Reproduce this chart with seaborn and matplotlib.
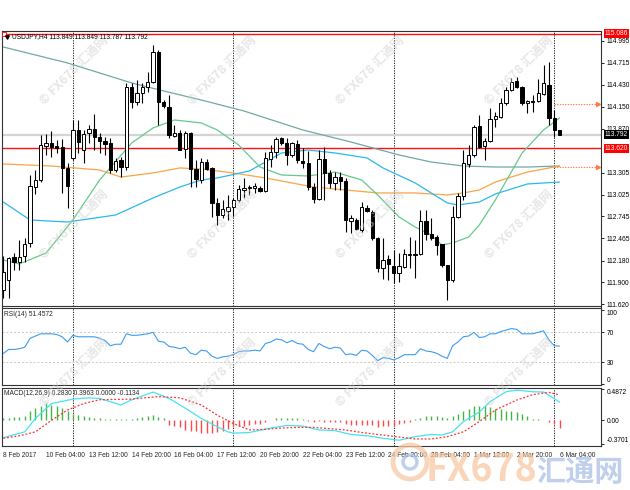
import numpy as np
import pandas as pd
import matplotlib
matplotlib.use("Agg")
import matplotlib.pyplot as plt
import matplotlib.transforms as mtransforms
from matplotlib.patches import Ellipse
import seaborn as sns

sns.set_style("white")
plt.rcParams['font.family'] = ['Liberation Sans', 'DejaVu Sans']

# ---------------- data ----------------
opens = [111.804, 111.932, 112.226, 112.162, 112.239, 112.406, 113.122, 113.212, 113.647, 113.686,
         113.647, 113.634, 113.366, 113.494, 113.852, 113.596, 113.814, 113.865, 113.762, 113.711,
         113.686, 113.340, 113.468, 113.378, 114.402, 114.210, 114.326, 114.402, 114.466, 114.850,
         114.210, 114.146, 113.775, 113.814, 113.609, 113.814, 113.353, 113.212, 113.442, 113.366,
         112.918, 112.764, 112.815, 112.866, 112.956, 113.084, 113.110, 113.110, 113.110, 113.071,
         113.481, 113.570, 113.750, 113.686, 113.532, 113.673, 113.455, 113.430, 113.122, 112.969,
         113.481, 113.302, 113.174, 113.250, 113.199, 112.687, 112.700, 112.572, 112.854, 112.802,
         112.470, 112.086, 112.201, 112.111, 112.022, 112.098, 112.252, 112.252, 112.265, 112.687,
         112.521, 112.482, 112.393, 112.124, 111.932, 112.738, 113.007, 113.417, 113.532, 113.903,
         113.647, 113.711, 113.993, 114.018, 114.198, 114.364, 114.479, 114.402, 114.198, 114.223,
         114.223, 114.313, 114.428, 114.006, 113.849]
highs = [112.239, 112.226, 112.278, 112.444, 112.470, 113.276, 113.340, 113.788, 113.801, 113.839,
         113.724, 113.737, 113.430, 113.980, 113.980, 113.852, 113.916, 114.057, 113.814, 113.762,
         113.750, 113.494, 113.506, 114.454, 114.454, 114.492, 114.454, 114.594, 114.940, 114.876,
         114.236, 114.300, 113.916, 113.852, 113.839, 113.826, 113.468, 113.494, 113.481, 113.378,
         112.982, 112.956, 113.020, 112.982, 113.148, 113.238, 113.148, 113.174, 113.135, 113.570,
         113.660, 113.762, 113.762, 113.750, 113.698, 113.724, 113.622, 113.583, 113.174, 113.596,
         113.634, 113.340, 113.314, 113.314, 113.238, 112.764, 112.726, 112.930, 112.892, 112.828,
         112.482, 112.470, 112.252, 112.316, 112.278, 112.329, 112.482, 112.444, 112.828, 112.828,
         112.726, 112.508, 112.393, 112.124, 112.879, 113.046, 113.596, 113.660, 113.916, 114.044,
         113.750, 114.134, 114.082, 114.262, 114.402, 114.518, 114.530, 114.415, 114.236, 114.300,
         114.505, 114.684, 114.722, 114.108, 113.849]
lows = [111.702, 111.702, 112.060, 112.060, 112.162, 112.354, 113.033, 113.186, 113.532, 113.506,
        113.558, 113.046, 112.854, 113.468, 113.558, 113.430, 113.686, 113.596, 113.558, 113.532,
        113.302, 113.314, 113.250, 113.340, 114.134, 114.172, 114.198, 114.338, 114.454, 113.916,
        114.134, 113.750, 113.762, 113.596, 113.494, 113.122, 113.122, 113.174, 113.340, 112.738,
        112.636, 112.726, 112.700, 112.738, 112.930, 112.982, 113.020, 113.046, 113.058, 113.058,
        113.378, 113.494, 113.660, 113.404, 113.506, 113.430, 113.366, 113.084, 112.918, 112.956,
        112.956, 113.110, 113.084, 113.084, 112.546, 112.534, 112.572, 112.546, 112.802, 112.444,
        112.034, 111.945, 111.932, 111.894, 111.906, 112.086, 112.086, 111.958, 112.252, 112.444,
        112.444, 112.252, 112.098, 111.676, 111.906, 112.726, 112.956, 113.378, 113.506, 113.622,
        113.468, 113.698, 113.890, 114.006, 114.172, 114.351, 114.390, 114.172, 114.070, 114.082,
        114.210, 114.300, 113.916, 113.762, 113.787]
closes = [112.034, 112.214, 112.162, 112.226, 112.393, 113.135, 113.212, 113.660, 113.686, 113.634,
          113.622, 113.366, 113.135, 113.852, 113.698, 113.801, 113.865, 113.762, 113.711, 113.673,
          113.340, 113.455, 113.378, 114.402, 114.210, 114.326, 114.402, 114.466, 114.850, 114.210,
          114.159, 113.788, 113.814, 113.596, 113.814, 113.353, 113.225, 113.442, 113.353, 112.918,
          112.764, 112.841, 112.866, 112.956, 113.097, 113.110, 113.122, 113.135, 113.071, 113.494,
          113.570, 113.737, 113.686, 113.532, 113.686, 113.468, 113.430, 113.122, 112.969, 113.481,
          113.302, 113.174, 113.250, 113.199, 112.700, 112.726, 112.585, 112.866, 112.815, 112.470,
          112.086, 112.188, 112.137, 112.022, 112.111, 112.265, 112.265, 112.265, 112.687, 112.521,
          112.470, 112.380, 112.124, 111.932, 112.738, 113.007, 113.430, 113.532, 113.890, 113.634,
          113.711, 113.993, 114.031, 114.198, 114.364, 114.466, 114.402, 114.198, 114.223, 114.210,
          114.326, 114.454, 114.006, 113.852, 113.792]

ma_slow_bar = [0, 6, 12, 18, 24, 30, 37, 45, 56, 65, 74, 80, 86, 92, 98, 104]
ma_slow_val = [114.914, 114.812, 114.710, 114.582, 114.454, 114.351, 114.236, 114.095, 113.852,
               113.698, 113.532, 113.442, 113.391, 113.378, 113.378, 113.391]
ma_orange_bar = [0, 9, 18, 22, 28, 33, 37, 43, 49, 58, 70, 77, 83, 86, 89, 92, 98, 104]
ma_orange_val = [113.417, 113.391, 113.340, 113.250, 113.302, 113.366, 113.353, 113.302, 113.238,
                 113.122, 113.046, 113.046, 113.020, 113.046, 113.084, 113.186, 113.314, 113.391]
ma_blue_bar = [0, 5, 12, 21, 28, 33, 37, 40, 46, 52, 57, 62, 68, 71, 77, 83, 85, 89, 92, 98, 104]
ma_blue_val = [112.930, 112.700, 112.674, 112.764, 112.982, 113.122, 113.212, 113.238, 113.327,
               113.558, 113.596, 113.558, 113.494, 113.366, 113.174, 112.918, 112.892, 112.930,
               113.033, 113.161, 113.186]
ma_green_bar = [0, 3, 8, 13, 18, 24, 28, 32, 37, 40, 44, 48, 52, 57, 62, 67, 70, 74, 77, 80, 82,
                84, 87, 89, 92, 97, 101, 104]
ma_green_val = [112.188, 112.137, 112.278, 112.700, 113.212, 113.686, 113.878, 113.980, 113.942,
                113.852, 113.660, 113.378, 113.276, 113.263, 113.314, 113.212, 113.020, 112.738,
                112.610, 112.508, 112.380, 112.406, 112.482, 112.636, 112.956, 113.558, 113.852,
                114.006]

rsi = [41.6, 47, 47, 48, 50, 62, 65, 68, 68, 68, 67, 64, 57, 66, 64, 64, 64, 64, 62, 59,
       52, 54, 54, 68, 66, 66, 67, 68, 70, 58, 57, 51, 50, 48, 50, 42, 40, 46, 45, 38,
       35, 37, 38, 40, 44, 45, 45, 46, 45, 55, 57, 61, 60, 56, 59, 55, 54, 47, 44, 55,
       51, 48, 50, 49, 40, 41, 39, 46, 45, 39, 32, 36, 35, 33, 36, 40, 40, 40, 48, 45,
       44, 42, 38, 35, 52, 57, 64, 65, 70, 63, 64, 68, 68, 71, 73, 75, 74, 68, 68, 68,
       70, 72, 60, 52, 51.4572]

macd_hist = [0.036, 0.036, 0.047, 0.05, 0.06, 0.14, 0.19, 0.23, 0.27, 0.24,
             0.23, 0.19, 0.14, 0.10, 0.09, 0.06, 0.05, 0.036, 0.036, 0.02,
             0.02, 0.015, 0.026, 0.015, 0.026, 0.036, 0.05, 0.06, 0.09, 0.05,
             0.036, -0.07, -0.09, -0.11, -0.145, -0.17, -0.17, -0.20, -0.20, -0.20,
             -0.18, -0.17, -0.135, -0.09, -0.09, -0.09, -0.07, -0.06, -0.05, -0.02,
             0.01, 0.03, 0.04, 0.04, 0.04, 0.03, 0.02, -0.01, -0.03, -0.01,
             -0.02, -0.03, -0.03, -0.03, -0.06, -0.07, -0.08, -0.07, -0.07, -0.08,
             -0.10, -0.09, -0.09, -0.09, -0.057, -0.04, -0.026, 0.02, 0.036, 0.06,
             0.07, 0.07, 0.05, 0.036, 0.06, 0.10, 0.14, 0.18, 0.22, 0.23,
             0.22, 0.20, 0.18, 0.18, 0.15, 0.14, 0.13, 0.10, 0.06, 0.026,
             0.02, 0.005, -0.026, -0.05, -0.1134]
macd_main_bar = [0, 4, 6, 9, 13, 16, 18, 22, 24, 28, 31, 34, 37, 40, 42, 43, 46, 50, 53, 56,
                 59, 62, 65, 68, 71, 74, 77, 80, 82, 84, 86, 89, 91, 94, 96, 99, 101, 102, 104]
macd_main_val = [-0.27, -0.18, 0.03, 0.26, 0.33, 0.35, 0.34, 0.24, 0.32, 0.44, 0.34, 0.19, 0.03,
                 -0.10, -0.18, -0.20, -0.19, -0.12, -0.08, -0.09, -0.15, -0.16, -0.22, -0.24,
                 -0.28, -0.31, -0.255, -0.22, -0.23, -0.18, -0.02, 0.13, 0.29, 0.445, 0.47,
                 0.445, 0.44, 0.39, 0.283]
macd_sig_bar = [0, 3, 6, 9, 12, 15, 18, 24, 29, 33, 37, 40, 43, 46, 49, 52, 55, 58, 61, 64,
                67, 70, 74, 77, 80, 83, 86, 89, 92, 96, 99, 102, 104]
macd_sig_val = [-0.28, -0.24, -0.18, 0.0, 0.16, 0.26, 0.32, 0.33, 0.37, 0.35, 0.24, 0.08, -0.05,
                -0.15, -0.14, -0.12, -0.11, -0.11, -0.13, -0.15, -0.19, -0.22, -0.26, -0.29,
                -0.29, -0.255, -0.18, -0.02, 0.16, 0.316, 0.40, 0.435, 0.396]

price_ticks = [114.995, 114.715, 114.430, 114.150, 113.870, 113.305, 113.025, 112.745,
               112.465, 112.180, 111.900, 111.620]
time_tick_bars = [0, 8, 16, 24, 32, 40, 48, 56, 64, 72, 80, 88, 96, 104]
time_tick_labels = ["8 Feb 2017", "10 Feb 04:00", "13 Feb 12:00", "14 Feb 20:00", "16 Feb 04:00",
                    "17 Feb 12:00", "20 Feb 20:00", "22 Feb 04:00", "23 Feb 12:00", "24 Feb 20:00",
                    "28 Feb 04:00", "1 Mar 12:00", "2 Mar 20:00", "6 Mar 04:00"]
week_sep_bars = [13, 43, 73, 103]
level_top = 115.086
level_red = 113.620
bid = 113.792
arrow_levels = [114.188, 113.382]

# ---------------- figure ----------------
W, H = 630, 490
fig = plt.figure(figsize=(6.3, 4.9), dpi=100)
fig.patch.set_facecolor('white')

def ax_at(x0, y0, x1, y1):
    return fig.add_axes([x0 / W, 1 - y1 / H, (x1 - x0) / W, (y1 - y0) / H])

ax = ax_at(2, 31, 601, 306)
ax_rsi = ax_at(2, 307.5, 601, 385)
ax_macd = ax_at(2, 387.5, 601, 446)

XMIN, XMAX = -0.25, 111.75
FS = 4.8
for a in (ax, ax_rsi, ax_macd):
    a.set_xlim(XMIN, XMAX)
    a.set_facecolor('white')
    for s in a.spines.values():
        s.set_color('#333333')
        s.set_linewidth(0.8)
    a.yaxis.tick_right()
    a.tick_params(axis='y', direction='out', length=2.5, width=0.6, labelsize=FS, pad=1.5,
                  colors='black')
    for b in week_sep_bars:
        a.axvline(b, color='black', lw=0.6, ls=(0, (1.5, 1.5)), zorder=1)

ax.tick_params(axis='x', bottom=False, labelbottom=False)
ax_rsi.tick_params(axis='x', bottom=False, labelbottom=False)

# ---- main price panel ----
o = np.array(opens); h = np.array(highs); l = np.array(lows); c = np.array(closes)
idx = np.arange(len(o))
up = c >= o
ax.vlines(idx, l, h, color='black', lw=0.8, zorder=3)
blo = np.minimum(o, c)
bh = np.maximum(np.abs(c - o), 0.004)
ax.bar(idx[up], bh[up], bottom=blo[up], width=0.62, color='white', edgecolor='black',
       lw=0.7, zorder=4)
ax.bar(idx[~up], bh[~up], bottom=blo[~up], width=0.62, color='black', edgecolor='black',
       lw=0.7, zorder=4)

ax.axhline(bid, color='#d4d4d4', lw=1.6, zorder=1)
ax.axhline(level_red, color='#ff1010', lw=1.0, zorder=2)
ax.axhline(level_top, color='#ff1010', lw=1.0, zorder=2)
ax.plot([0.2], [level_top], marker='s', ms=2.5, mfc='white', mec='red', mew=0.6, zorder=6)

for nm, xs, ys, col in [("slow", ma_slow_bar, ma_slow_val, '#6fa9a6'),
                        ("orange", ma_orange_bar, ma_orange_val, '#f7a548'),
                        ("blue", ma_blue_bar, ma_blue_val, '#2ab8ee'),
                        ("green", ma_green_bar, ma_green_val, '#66c98a')]:
    df = pd.DataFrame({"bar": xs, "v": ys})
    sns.lineplot(data=df, x="bar", y="v", ax=ax, color=col, lw=0.9, sort=False,
                 estimator=None, zorder=2)

for lv in arrow_levels:
    ax.plot([103, 111.1], [lv, lv], color='#ff7a45', lw=0.8, ls=(0, (1.2, 1.2)), zorder=2)
    ax.plot([111.1], [lv], marker='>', ms=2.8, color='#ff7a45', zorder=2)

ax.set_ylim(111.599, 115.119)
ax.set_yticks(price_ticks)
ax.set_yticklabels([f"{t:.3f}" for t in price_ticks])
ax.set_xlabel(""); ax.set_ylabel("")

bt = mtransforms.blended_transform_factory(ax.transAxes, ax.transData)
for val, fc in [(level_top, '#ff0000'), (level_red, '#ff0000'), (bid, '#000000')]:
    ax.text(1.006, val, f"{val:.3f}", transform=bt, fontsize=FS, color='white', va='center',
            ha='left', zorder=10, clip_on=False,
            bbox=dict(boxstyle='square,pad=0.15', fc=fc, ec='none'))

ax.text(0.0175, 0.980, "USDJPY,H4 113.849 113.849 113.787 113.792", transform=ax.transAxes,
        fontsize=FS, va='center', ha='left', color='black', zorder=8)
ax.plot([0.009], [0.980], marker='v', ms=2.6, color='black', transform=ax.transAxes, zorder=8,
        clip_on=False)

# ---- RSI panel ----
rdf = pd.DataFrame({"bar": idx, "rsi": rsi})
sns.lineplot(data=rdf, x="bar", y="rsi", ax=ax_rsi, color='#3d9cf2', lw=0.8, estimator=None)
for lv in (70, 30):
    ax_rsi.axhline(lv, color='#c8c8c8', lw=0.7, ls=(0, (2, 2)), zorder=1)
ax_rsi.set_ylim(-0.7, 103.3)
ax_rsi.set_yticks([0, 30, 70, 100])
ax_rsi.set_yticklabels(['0', '30', '70', '100'])
tl = ax_rsi.get_yticklabels()
tl[0].set_va('bottom'); tl[3].set_va('top')
ax_rsi.set_xlabel(""); ax_rsi.set_ylabel("")
ax_rsi.text(0.004, 0.905, "RSI(14) 51.4572", transform=ax_rsi.transAxes, fontsize=FS,
            va='center', ha='left')

# ---- MACD panel ----
hist = np.array(macd_hist)
ax_macd.vlines(idx, 0, hist, colors=np.where(hist >= 0, '#43b545', '#ff4a4a'), lw=1.0, zorder=2)
mdf = pd.DataFrame({"bar": macd_main_bar, "v": macd_main_val})
sdf = pd.DataFrame({"bar": macd_sig_bar, "v": macd_sig_val})
sns.lineplot(data=mdf, x="bar", y="v", ax=ax_macd, color='#45e3f0', lw=0.9, estimator=None)
sns.lineplot(data=sdf, x="bar", y="v", ax=ax_macd, color='#ff3030', lw=0.9, estimator=None,
             linestyle=(0, (1.5, 1.5)))
ax_macd.set_ylim(-0.400, 0.511)
ax_macd.set_yticks([-0.3701, 0.0, 0.4872])
ax_macd.set_yticklabels(['-0.3701', '0.00', '0.4872'])
tl = ax_macd.get_yticklabels()
tl[0].set_va('bottom'); tl[2].set_va('top')
ax_macd.set_xticks(time_tick_bars)
ax_macd.set_xticklabels(time_tick_labels, ha='left')
ax_macd.tick_params(axis='x', direction='out', length=3, width=0.6, labelsize=FS, pad=1.5)
ax_macd.set_xlabel(""); ax_macd.set_ylabel("")
ax_macd.text(0.004, 0.89, "MACD(12,26,9) 0.2830 0.3963 0.0000 -0.1134",
             transform=ax_macd.transAxes, fontsize=FS, va='center', ha='left')

# ---- watermarks ----
cjk = ['Noto Sans CJK SC', 'DejaVu Sans']
for wy in [103, 257, 405]:
    for wx in [42, 190, 338, 487]:
        fig.text(wx / W, 1 - wy / H, "© FX678 汇通网", rotation=45, rotation_mode='anchor',
                 ha='left', va='center', fontsize=9, fontweight='bold', color='#cfcfcf',
                 alpha=0.5, family=cjk, zorder=20)

fig.add_artist(Ellipse((410 / W, 1 - 462 / H), 34 / W, 34 / H, transform=fig.transFigure,
                       fill=False, ec='#f6c9a4', lw=3.5, alpha=0.75, zorder=21))
fig.add_artist(Ellipse((410 / W, 1 - 462 / H), 14 / W, 14 / H, transform=fig.transFigure,
                       fill=False, ec='#a9c1e6', lw=2.5, alpha=0.75, zorder=21))
fig.text(426 / W, 1 - 481 / H, "FX678", fontsize=27, fontweight='bold', color='#f8c49c',
         alpha=0.7, ha='left', va='baseline', family=cjk, zorder=21)
fig.text(536 / W, 1 - 481 / H, "汇通网", fontsize=21, fontweight='bold', color='#aac0e6',
         alpha=0.75, ha='left', va='baseline', family=cjk, zorder=21)

fig.savefig("out.png", dpi=100, facecolor='white')
